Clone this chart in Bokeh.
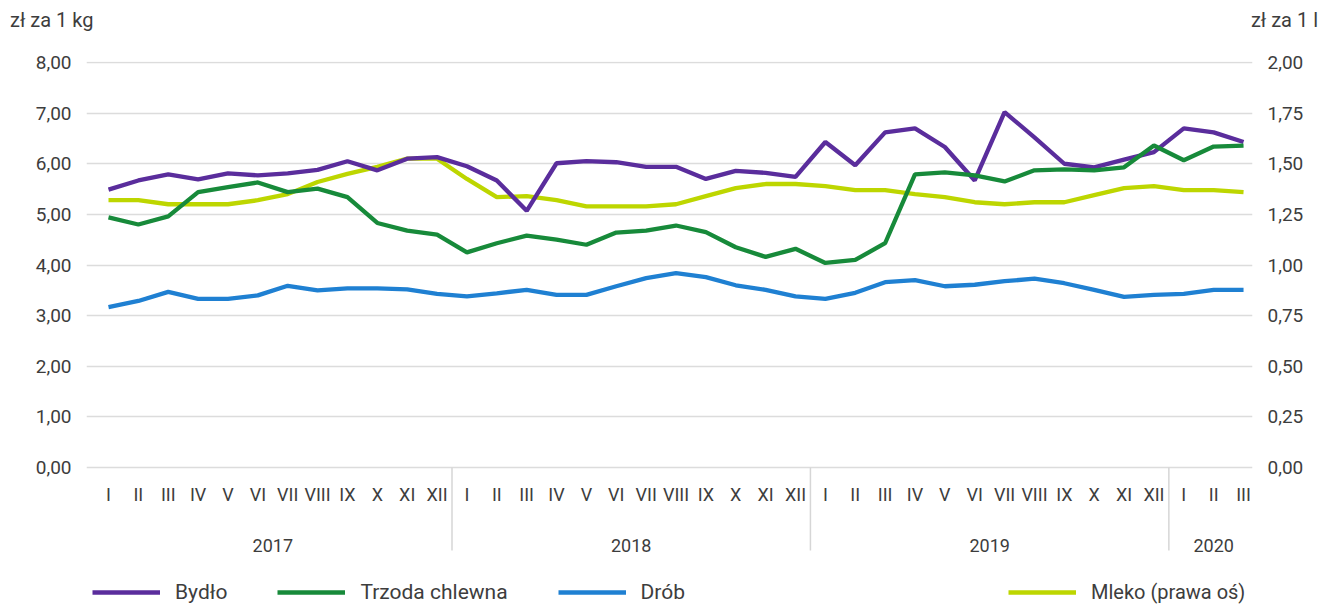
from bokeh.plotting import figure
from bokeh.models import (Range1d, LinearAxis, FixedTicker, Legend, LegendItem,
                          CustomJSTickFormatter, Div)
from bokeh.layouts import column
from bokeh.core.properties import value
from bokeh.embed import file_html
from bokeh.resources import INLINE

# ---------------- data ----------------
months = ["I", "II", "III", "IV", "V", "VI", "VII", "VIII", "IX", "X", "XI", "XII"] * 3 + ["I", "II", "III"]
years = ["2017", "2018", "2019", "2020"]
year_lengths = [12, 12, 12, 3]

bydlo = [5.49, 5.67, 5.79, 5.69, 5.81, 5.77, 5.81, 5.88, 6.05, 5.87, 6.10, 6.13,
         5.95, 5.67, 5.07, 6.01, 6.05, 6.03, 5.94, 5.94, 5.70, 5.86, 5.82, 5.74,
         6.43, 5.97, 6.62, 6.70, 6.33, 5.67, 7.02, 6.52, 6.00, 5.93, 6.08, 6.23,
         6.70, 6.62, 6.43]
trzoda = [4.94, 4.80, 4.96, 5.44, 5.54, 5.63, 5.44, 5.51, 5.34, 4.83, 4.68, 4.60,
          4.25, 4.43, 4.58, 4.50, 4.40, 4.64, 4.68, 4.78, 4.65, 4.35, 4.16, 4.32,
          4.04, 4.10, 4.43, 5.79, 5.83, 5.77, 5.65, 5.87, 5.89, 5.87, 5.93, 6.36,
          6.07, 6.34, 6.36]
drob = [3.17, 3.29, 3.47, 3.33, 3.33, 3.40, 3.59, 3.50, 3.54, 3.54, 3.52, 3.43,
        3.38, 3.44, 3.51, 3.41, 3.41, 3.58, 3.74, 3.84, 3.76, 3.60, 3.51, 3.38,
        3.33, 3.45, 3.66, 3.70, 3.58, 3.61, 3.68, 3.73, 3.64, 3.51, 3.37, 3.41,
        3.43, 3.51, 3.51]
mleko = [1.32, 1.32, 1.30, 1.30, 1.30, 1.32, 1.35, 1.41, 1.45, 1.485, 1.525, 1.525,
         1.425, 1.335, 1.34, 1.32, 1.29, 1.29, 1.29, 1.30, 1.34, 1.38, 1.40, 1.40,
         1.39, 1.37, 1.37, 1.35, 1.335, 1.31, 1.30, 1.31, 1.31, 1.345, 1.38, 1.39,
         1.37, 1.37, 1.36]

left_ticks = [0, 1, 2, 3, 4, 5, 6, 7, 8]
right_ticks = [0, 0.25, 0.5, 0.75, 1, 1.25, 1.5, 1.75, 2]
unit_left = "zł za 1 kg"
unit_right = "zł za 1 l"

# ---------------- styling ----------------
FONT = "Roboto"
TXT = "#3d3d3d"
C_BYDLO = "#5a2d9c"
C_TRZODA = "#178a3a"
C_DROB = "#1f80d2"
C_MLEKO = "#bdd600"

x = list(range(len(months)))

Y_MIN = -2.746
Y_MAX = 8.02

header = Div(text=(f'<div style="display:flex;justify-content:space-between;width:1318px;'
                   f'padding-left:10px;box-sizing:border-box;font-family:Roboto;font-size:20px;'
                   f'color:{TXT};line-height:40px;white-space:nowrap;">'
                   f'<span>{unit_left}</span><span>{unit_right}</span></div>'),
             width=1322, height=40, margin=0)

p = figure(width=1322, height=566, output_backend="svg", toolbar_location=None,
           x_range=Range1d(-0.7365, 38.30), y_range=Range1d(Y_MIN, Y_MAX),
           x_axis_location=None, y_axis_location="left",
           min_border_left=86, min_border_right=70, min_border_top=21, min_border_bottom=0,
           margin=0)
p.outline_line_color = None
p.xgrid.grid_line_color = None

fmt = CustomJSTickFormatter(code="return tick.toFixed(2).replace('.', ',');")

yax = p.yaxis[0]
yax.ticker = FixedTicker(ticks=left_ticks)
yax.formatter = fmt
yax.axis_line_color = None
yax.major_tick_line_color = None
yax.minor_tick_line_color = None
yax.major_label_standoff = 9
yax.major_label_text_font = FONT
yax.major_label_text_font_size = "19px"
yax.major_label_text_color = TXT

p.extra_y_ranges = {"r": Range1d(Y_MIN / 4, Y_MAX / 4)}
rax = LinearAxis(y_range_name="r", ticker=FixedTicker(ticks=right_ticks), formatter=fmt)
rax.axis_line_color = None
rax.major_tick_line_color = None
rax.minor_tick_line_color = None
rax.major_label_standoff = 9
rax.major_label_text_font = FONT
rax.major_label_text_font_size = "19px"
rax.major_label_text_color = TXT
p.add_layout(rax, "right")

p.ygrid.ticker = FixedTicker(ticks=left_ticks)
p.ygrid.grid_line_color = "#dcdcdc"
p.ygrid.grid_line_width = 1.5

# month labels, year separators and year labels
p.text(x=x, y=[-0.53] * len(x), text=months, text_align="center", text_baseline="middle",
       text_font=value(FONT), text_font_size="18px", text_color=TXT)

seps = []
centers = []
acc = 0
for n in year_lengths:
    centers.append(acc + (n - 1) / 2)
    acc += n
    if acc < len(months):
        seps.append(acc - 0.5)
p.segment(x0=seps, y0=[0] * len(seps), x1=seps, y1=[-1.64] * len(seps),
          line_color="#d6d6d6", line_width=1.5)
p.text(x=centers, y=[-1.54] * len(centers), text=years, text_align="center",
       text_baseline="middle", text_font=value(FONT), text_font_size="18px", text_color=TXT)

# series
LW = 4.3
r_m = p.line(x, mleko, y_range_name="r", line_color=C_MLEKO, line_width=LW)
r_d = p.line(x, drob, line_color=C_DROB, line_width=LW)
r_b = p.line(x, bydlo, line_color=C_BYDLO, line_width=LW)
r_t = p.line(x, trzoda, line_color=C_TRZODA, line_width=LW)


def make_legend(items, loc, size):
    return Legend(items=items, orientation="horizontal", location=loc, spacing=50,
                  glyph_width=68, glyph_height=22, label_standoff=15, padding=0, margin=0,
                  border_line_color=None, background_fill_alpha=0,
                  label_text_font=FONT, label_text_font_size=size, label_text_color=TXT)


lg1 = make_legend([LegendItem(label="Bydło", renderers=[r_b]),
                   LegendItem(label="Trzoda chlewna", renderers=[r_t]),
                   LegendItem(label="Drób", renderers=[r_d])], (6, 2), "21px")
lg2 = make_legend([LegendItem(label="Mleko (prawa oś)", renderers=[r_m])], (922, 2), "20px")
p.add_layout(lg1)
p.add_layout(lg2)

layout = column(header, p, spacing=0, margin=0)
open("out.html", "w").write(file_html(layout, INLINE))
